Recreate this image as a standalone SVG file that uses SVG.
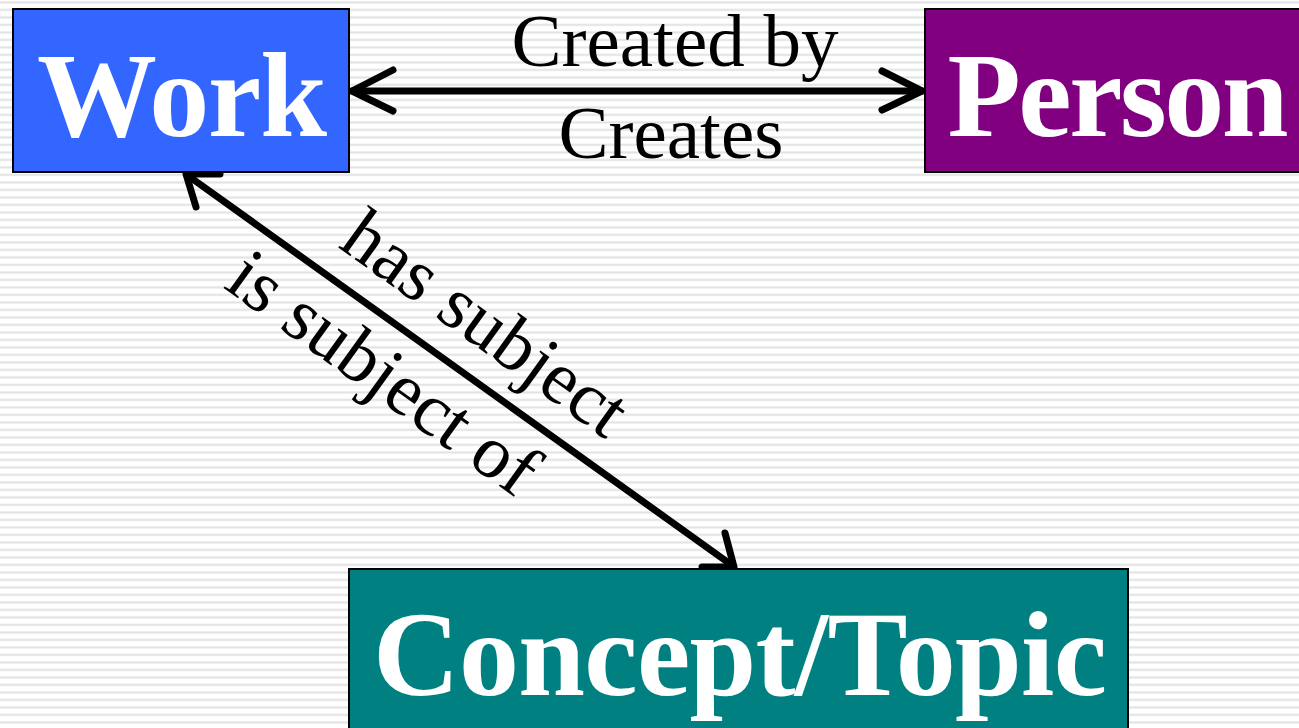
<svg xmlns="http://www.w3.org/2000/svg" width="1299" height="728" viewBox="0 0 1299 728">
  <style>
    .box { stroke: #000; stroke-width: 2; }
    .title { font-family: "Liberation Serif", "Times New Roman", serif; font-weight: bold; font-size: 120px; fill: #fff; text-anchor: middle; }
    .lbl { font-family: "Liberation Serif", "Times New Roman", serif; font-size: 75px; fill: #000; text-anchor: middle; }
    .edge { fill: none; stroke: #000; stroke-width: 7; stroke-linecap: round; stroke-linejoin: round; }
  </style>
  <defs>
    <pattern id="stripes" patternUnits="userSpaceOnUse" width="20" height="7.5">
      <rect x="0" y="0" width="20" height="7.5" fill="#ffffff"/>
      <rect x="0" y="1.4" width="20" height="2" fill="#e1e1e1"/>
    </pattern>
  </defs>
  <rect x="0" y="0" width="1299" height="728" fill="url(#stripes)"/>

  <g id="connectors">
    <path class="edge" d="M352,91 L922,91"/>
    <path class="edge" d="M393,70 L352,91 L393,111"/>
    <path class="edge" d="M882,71 L922,91 L882,110"/>
    <path class="edge" d="M187,175 L733,566"/>
    <path class="edge" d="M220,174 L186,174 L196,207"/>
    <path class="edge" d="M725,533 L734,567 L702,567"/>
    <text class="lbl" x="675" y="66">Created by</text>
    <text class="lbl" x="671" y="158">Creates</text>
    <g transform="translate(185,173) rotate(35.7)">
      <text class="lbl" x="332" y="-29">has subject</text>
      <text class="lbl" x="278" y="71">is subject of</text>
    </g>
  </g>

  <g id="work">
    <rect class="box" x="13" y="9" width="336" height="163" fill="#3366FF"/>
    <text class="title" x="182" y="136" textLength="290" lengthAdjust="spacing">Work</text>
  </g>
  <g id="person">
    <rect class="box" x="925" y="9" width="380" height="163" fill="#800080"/>
    <text class="title" x="1118" y="136" textLength="341" lengthAdjust="spacing">Person</text>
  </g>
  <g id="concept">
    <rect class="box" x="349" y="569" width="779" height="200" fill="#008080"/>
    <text class="title" x="740" y="695" textLength="734" lengthAdjust="spacing">Concept/Topic</text>
  </g>
</svg>
